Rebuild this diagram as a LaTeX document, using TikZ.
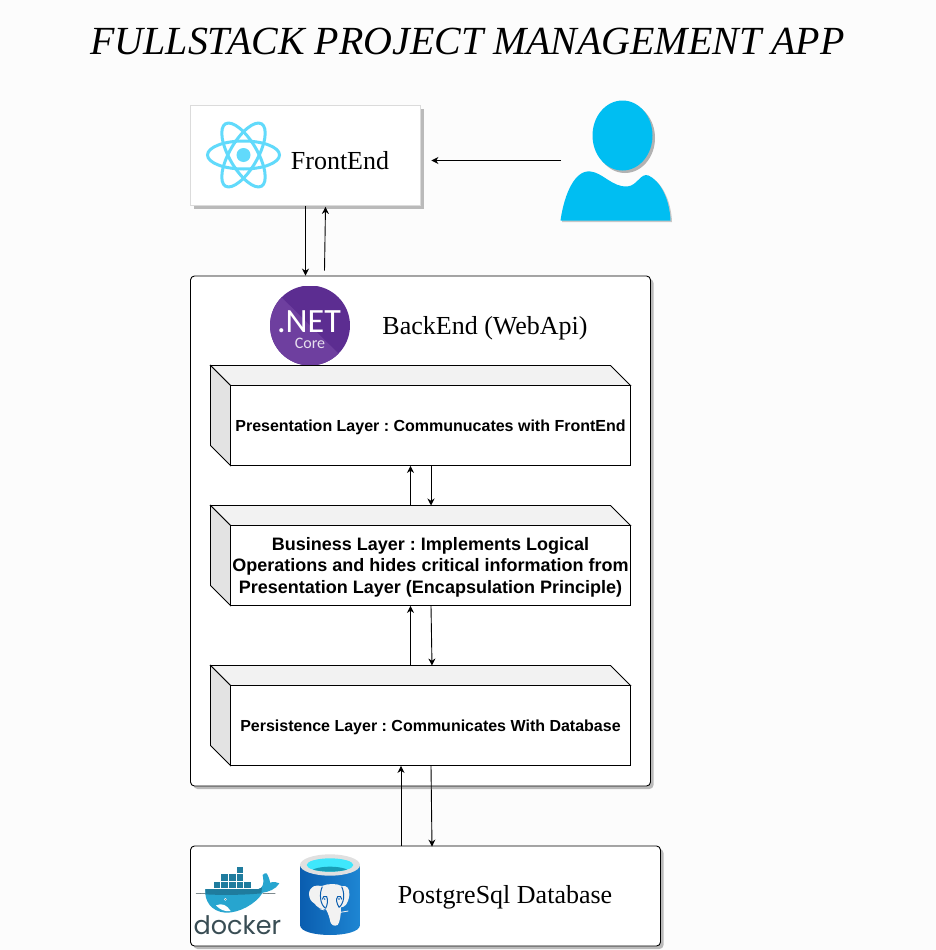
\documentclass[tikz,border=0pt]{standalone}
\usepackage{fontspec}
\setmainfont{Liberation Serif}
\newfontfamily\arialfont{Liberation Sans}
\newfontfamily\logofont{Poppins}
\newfontfamily\netfont{Carlito}
\usetikzlibrary{arrows.meta,shapes.geometric}
\definecolor{pagebg}{HTML}{FCFCFC}
\definecolor{reactblue}{HTML}{61DAFB}
\definecolor{userblue}{HTML}{00BEF2}
\definecolor{netdark}{HTML}{5C2D91}
\definecolor{netlight}{HTML}{6E3F9F}
\definecolor{dockink}{HTML}{394D54}
\definecolor{dockdark}{HTML}{1F7C9E}
\definecolor{docklight}{HTML}{27A5CF}
\definecolor{dbblue}{HTML}{0A5DAF}
\definecolor{dbblue2}{HTML}{1E86D3}
\tikzset{
  flow/.style={draw=black,line width=0.9pt,-{Stealth[length=7pt,width=7pt]}},
  sheet/.style={draw=black,fill=white,rounded corners=4pt,line width=0.9pt},
  facebox/.style={draw=black,fill=white,line width=0.9pt,inner sep=0pt,minimum width=400pt,minimum height=80pt,align=center},
  title/.style={font=\fontsize{39.9}{46}\selectfont\itshape,inner sep=0pt},
  serif/.style={font=\fontsize{26}{30}\selectfont,inner sep=0pt},
  layertext/.style={font=\arialfont\bfseries\fontsize{16}{19}\selectfont},
  layertextbig/.style={font=\arialfont\bfseries\fontsize{18}{21.5}\selectfont},
  shadowfill/.style={fill=black!27,draw=none},
}
\newcommand{\layerbox}[4]{%
  \draw[black,line width=0.9pt,fill=black!5] (210,#1) -- (610,#1) -- (630,#1+20) -- (230,#1+20) -- cycle;
  \draw[black,line width=0.9pt,fill=black!11] (210,#1) -- (230,#1+20) -- (230,#1+100) -- (210,#1+80) -- cycle;
  \node[facebox,#4] (#2) at (430,#1+60) {\raisebox{0pt}[\dimexpr\height+3.5pt\relax][\depth]{\begin{tabular}{@{}c@{}}#3\end{tabular}}};
}
\begin{document}
\frenchspacing
\begin{tikzpicture}[x=1pt,y=-1pt]
\useasboundingbox (0,0) rectangle (936,950);
\fill[pagebg] (0,0) rectangle (936,950);
\begin{scope}[shift={(0.5,0.5)}]

\node[title] (heading) at (467,41) {FULLSTACK PROJECT MANAGEMENT APP};

% FrontEnd
\fill[shadowfill] (193,108) rectangle (423,208);
\node[draw=black!14,fill=white,line width=0.9pt,minimum width=230pt,minimum height=100pt,inner sep=0pt] (frontend) at (305,155) {};
\node[serif] (frontlabel) at (339.5,160.5) {FrontEnd};
\begin{scope}[reactblue,line width=3pt]
  \draw (243,154.5) ellipse [x radius=36,y radius=14];
  \draw[rotate around={60:(243,154.5)}] (243,154.5) ellipse [x radius=36,y radius=14];
  \draw[rotate around={-60:(243,154.5)}] (243,154.5) ellipse [x radius=36,y radius=14];
  \fill (243,154.5) circle (7);
\end{scope}

% User
\fill[black!30] (624.5,137.5) ellipse [x radius=30,y radius=35];
\fill[black!22] (561.5,221.5) .. controls (565.5,193.5) and (576.5,170.5) .. (591.5,172.5) .. controls (603.5,173.5) and (613.5,188.5) .. (628.5,187.5) .. controls (638.5,186.5) and (641.5,173.5) .. (649.5,176.5) .. controls (660.5,181.5) and (670.5,198.5) .. (671.5,221.5) -- cycle;
\fill[userblue] (622,135) ellipse [x radius=30,y radius=35];
\fill[userblue] (560,220) .. controls (564,192) and (575,169) .. (590,171) .. controls (602,172) and (612,187) .. (627,186) .. controls (637,185) and (640,172) .. (648,175) .. controls (659,180) and (669,197) .. (670,220) -- cycle;
\coordinate (userleft) at (560.5,160);

% BackEnd
\fill[shadowfill,rounded corners=4pt] (193,278.5) rectangle (653,788.5);
\node[sheet,minimum width=460pt,minimum height=510pt,inner sep=0pt] (backend) at (420,530.5) {};
\begin{scope}
  \clip (309.5,325) circle (40);
  \fill[netdark] (269,285) rectangle (350,365);
  \fill[netlight] (269,285) -- (350,365) -- (269,365) -- cycle;
\end{scope}
\node[white,inner sep=0pt,text height=22pt,text depth=0pt,font=\netfont\fontsize{34}{38}\selectfont] (netword) at (308.5,320.5) {.NET};
\node[white!85!netdark,inner sep=0pt,text height=11pt,text depth=0pt,font=\netfont\fontsize{16}{18}\selectfont] (netcore) at (309.5,342.5) {Core};
\node[serif] (backlabel) at (484.5,328) {BackEnd (WebApi)};

% Layers
\layerbox{365}{presentation}{Presentation Layer : Communucates with FrontEnd}{layertext}
\layerbox{505}{business}{Business Layer : Implements Logical\\Operations and hides critical information from\\Presentation Layer (Encapsulation Principle)}{layertextbig}
\layerbox{665}{persistence}{Persistence Layer : Communicates With Database}{layertext}
\coordinate (bizup) at (430,505);
\coordinate (perup) at (430,665);

% Database
\fill[shadowfill,rounded corners=4pt] (193,848.5) rectangle (663,948.5);
\node[sheet,minimum width=470pt,minimum height=100pt,inner sep=0pt] (database) at (425,895.5) {};
\node[serif] (dblabel) at (504.5,896.5) {PostgreSql Database};

% Docker logo, in 3x crop coordinates
\begin{scope}[shift={(191.5,859.5)},x=0.3333pt,y=-0.3333pt]
  \foreach \cx/\cy in {62/62,85/62,108/62,131/62,154/62,85/40,108/40,131/40,131/17}
    \fill[dockdark,draw=white,line width=0.3pt] (\cx,\cy) rectangle +(23,22);
  \fill[docklight] (40,87) -- (200,87) .. controls (210,85) and (218,75) .. (212,45) .. controls (214,42) and (220,38) .. (224,40) .. controls (230,50) and (234,62) .. (234,68) .. controls (245,64) and (255,66) .. (262,70) .. controls (252,88) and (228,96) .. (212,98) .. controls (192,132) and (140,160) .. (100,158) .. controls (58,155) and (36,122) .. (40,87) -- cycle;
  \fill[dockdark] (40,87) -- (200,87) .. controls (204,87) and (207,85) .. (210,82) -- (208,100) .. controls (160,105) and (90,106) .. (41,103) -- cycle;
  \fill[white] (72,136) .. controls (90,128) and (105,135) .. (116,153) .. controls (98,156) and (82,148) .. (72,136) -- cycle;
  \fill[white] (100,118) circle (4);
  \fill[dockink] (100,118) circle (1.5);
  \draw[dockink,line width=0.5pt] (12,101) -- (40,100);
  \draw[dockink,line width=0.5pt] (212,100) -- (250,101);
  \node[dockink,inner sep=0pt,font=\logofont\fontsize{25.5}{30}\selectfont] (dockerword) at (136,195) {docker};
\end{scope}

% PostgreSQL logo, in 3x crop coordinates
\begin{scope}[shift={(294.5,849.5)},x=0.3333pt,y=-0.3333pt]
  \shade[left color=dbblue,right color=dbblue2] (15,45) -- (15,225) .. controls (15,265) and (195,265) .. (195,225) -- (195,45) -- cycle;
  \fill[black!12] (105,45) ellipse [x radius=90,y radius=32];
  \fill[reactblue!65!cyan] (105,45) ellipse [x radius=70,y radius=20];
  \begin{scope}
    \clip (105,45) ellipse [x radius=70,y radius=20];
    \fill[dockdark!75!cyan] (105,68) ellipse [x radius=60,y radius=18];
  \end{scope}
  \draw[black!6,line width=0.8pt] (88,180) -- (74,176);
  \draw[black!6,line width=0.8pt] (136,187) -- (160,183);
  \fill[black!5] (42,130) .. controls (45,108) and (62,104) .. (80,108) .. controls (100,100) and (125,100) .. (140,108) .. controls (155,105) and (165,115) .. (163,135) .. controls (160,160) and (150,172) .. (138,172) .. controls (138,195) and (135,215) .. (128,225) .. controls (118,230) and (108,225) .. (106,215) .. controls (104,205) and (100,190) .. (93,178) .. controls (75,178) and (65,170) .. (58,160) .. controls (48,155) and (42,145) .. (42,130) -- cycle;
  \begin{scope}[dbblue,line width=1pt]
    \draw (82,110) .. controls (72,130) and (75,165) .. (92,175);
    \draw (92,175) .. controls (97,165) and (100,150) .. (95,140) .. controls (88,135) and (82,142) .. (82,148);
    \draw (140,110) .. controls (150,130) and (148,160) .. (132,172);
    \draw (132,172) .. controls (125,160) and (122,148) .. (128,140) .. controls (135,135) and (140,142) .. (140,148);
    \fill (89,147) circle (2.5);
    \fill (132,147) circle (2.5);
  \end{scope}
\end{scope}

% Connectors
\draw[flow] (frontend.south) -- ([xshift=-115pt]backend.north);
\draw[flow] ([xshift=-96pt,yshift=5pt]backend.north) -- ([xshift=20pt,yshift=-1pt]frontend.south);
\draw[flow] (userleft) -- ([xshift=10.5pt,yshift=-5pt]frontend.east);
\draw[flow] ([xshift=-20pt]bizup) -- ([xshift=-20pt]presentation.south);
\draw[flow] ([xshift=0.5pt]presentation.south) -- ([xshift=0.5pt]bizup);
\draw[flow] ([xshift=-20pt]perup) -- ([xshift=-20pt]business.south);
\draw[flow] ([xshift=0.5pt]business.south) -- ([xshift=1.5pt]perup);
\draw[flow] ([xshift=-24.5pt]database.north) -- ([xshift=-29.5pt]persistence.south);
\draw[flow] ([xshift=0.5pt]persistence.south) -- ([xshift=6.5pt,yshift=-1pt]database.north);
\end{scope}
\end{tikzpicture}
\end{document}
